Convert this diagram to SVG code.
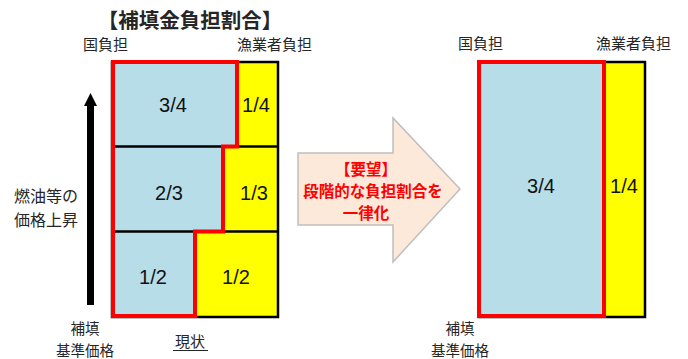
<svg xmlns="http://www.w3.org/2000/svg" width="688" height="359" viewBox="0 0 688 359">
<style>
.jp{font-family:"Noto Sans CJK JP","Noto Sans",sans-serif;fill:#262626}
.num{font-family:"Liberation Sans","Noto Sans",sans-serif;font-size:20px;fill:#111;text-anchor:middle}
.red{fill:none;stroke:#ff0000;stroke-width:4;stroke-linejoin:miter}
.blk{stroke:#000;stroke-width:2.5;fill:none}
.req{font-family:"Noto Sans CJK JP",sans-serif;font-weight:bold;font-size:15.5px;fill:#ff0000;text-anchor:middle}
</style>
<rect width="688" height="359" fill="#fff"/>
<g id="title"><text class="jp" x="190" y="28" font-size="20.5" font-weight="bold" text-anchor="middle" fill="#111">【補填金負担割合】</text></g>
<g id="left-labels">
<text class="jp" x="83" y="50" font-size="15">国負担</text>
<text class="jp" x="237" y="50" font-size="15">漁業者負担</text>
<text class="jp" x="14" y="202" font-size="16">燃油等の</text>
<text class="jp" x="14" y="226" font-size="16">価格上昇</text>
<text class="jp" x="85" y="334" font-size="14.5" text-anchor="middle">補填</text>
<text class="jp" x="85" y="356" font-size="14.5" text-anchor="middle">基準価格</text>
<text class="jp" x="190" y="347" font-size="15" text-anchor="middle">現状</text>
<line x1="173" y1="350.5" x2="208" y2="350.5" stroke="#262626" stroke-width="1"/>
</g>
<g id="up-arrow">
<rect x="87" y="104" width="7" height="201" fill="#000"/>
<polygon points="90.5,93 97,106 84,106" fill="#000"/>
</g>
<g id="left-chart">
<rect x="112" y="62" width="166" height="255" fill="#ffff00"/>
<polygon points="113,62 237,62 237,146.5 223,146.5 223,231.5 195,231.5 195,316 113,316" fill="#b7dde8"/>
<rect x="112" y="62" width="166" height="255" class="blk"/>
<line x1="112" y1="146.5" x2="278" y2="146.5" class="blk"/>
<line x1="112" y1="231.5" x2="278" y2="231.5" class="blk"/>
<polygon points="113,62 237,62 237,146.5 223,146.5 223,231.5 195,231.5 195,316 113,316" class="red"/>
<text class="num" x="173" y="112">3/4</text>
<text class="num" x="256" y="112">1/4</text>
<text class="num" x="169" y="200">2/3</text>
<text class="num" x="254" y="200">1/3</text>
<text class="num" x="153" y="284">1/2</text>
<text class="num" x="236" y="284">1/2</text>
</g>
<g id="request-arrow">
<polygon points="298,153 393,153 393,118 460,189 393,262 393,225 298,225" fill="#fde9d9" stroke="#bfbfbf" stroke-width="1.5"/>
<text class="req" x="366" y="175">【要望】</text>
<text class="req" x="373" y="197">段階的な負担割合を</text>
<text class="req" x="366" y="219">一律化</text>
</g>
<g id="right-chart">
<rect x="479" y="62" width="166" height="255" fill="#ffff00"/>
<rect x="479" y="62" width="166" height="255" class="blk"/>
<rect x="479" y="62" width="125" height="254" fill="#b7dde8"/>
<rect x="479" y="62" width="125" height="254" class="red"/>
<text class="num" x="541" y="193">3/4</text>
<text class="num" x="624" y="193">1/4</text>
</g>
<g id="right-labels">
<text class="jp" x="458" y="49" font-size="15">国負担</text>
<text class="jp" x="596" y="49" font-size="15">漁業者負担</text>
<text class="jp" x="460" y="334" font-size="14.5" text-anchor="middle">補填</text>
<text class="jp" x="460" y="356" font-size="14.5" text-anchor="middle">基準価格</text>
</g>
</svg>
